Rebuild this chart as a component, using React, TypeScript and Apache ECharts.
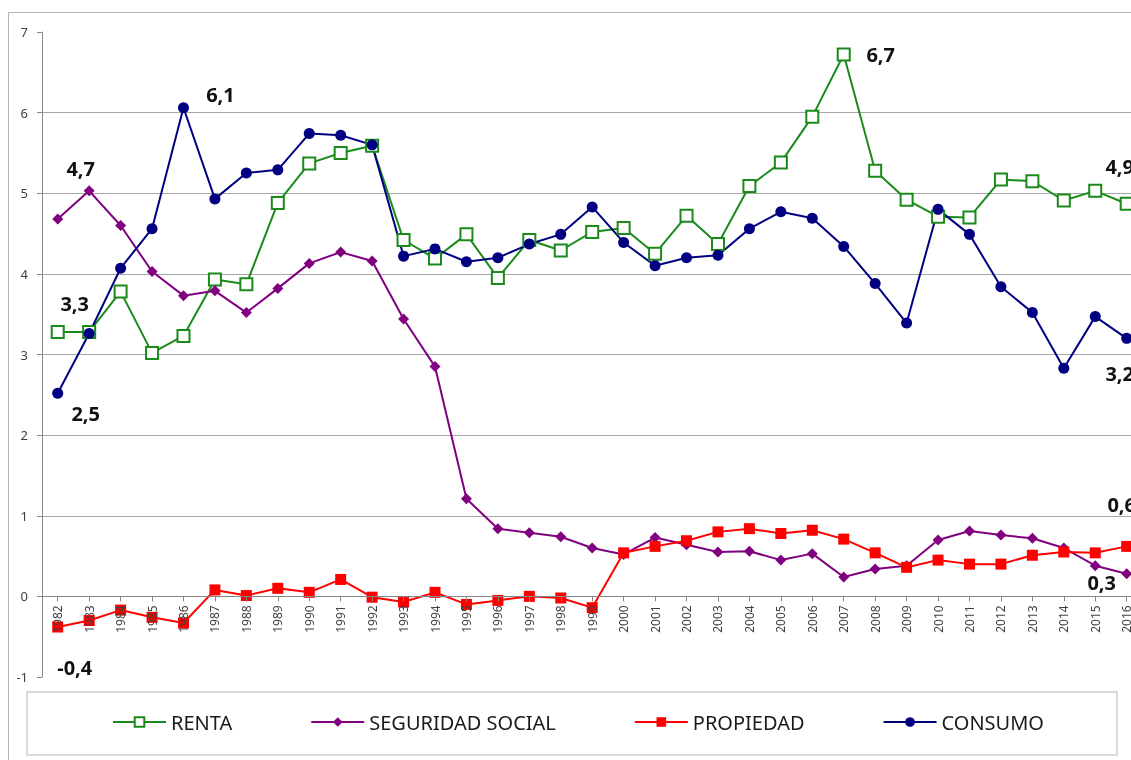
import React, { useEffect, useRef } from "react";
import * as echarts from "echarts";

const years = [
  "1982", "1983", "1984", "1985", "1986", "1987", "1988", "1989", "1990", "1991",
  "1992", "1993", "1994", "1995", "1996", "1997", "1998", "1999", "2000", "2001",
  "2002", "2003", "2004", "2005", "2006", "2007", "2008", "2009", "2010", "2011",
  "2012", "2013", "2014", "2015", "2016",
];

const renta = [
  3.28, 3.28, 3.78, 3.02, 3.23, 3.93, 3.87, 4.88, 5.37, 5.5,
  5.59, 4.42, 4.19, 4.49, 3.95, 4.42, 4.29, 4.52, 4.57, 4.25,
  4.72, 4.37, 5.09, 5.38, 5.95, 6.72, 5.28, 4.92, 4.71, 4.7,
  5.17, 5.15, 4.91, 5.03, 4.87,
];

const seguridadSocial = [
  4.68, 5.03, 4.6, 4.03, 3.73, 3.79, 3.52, 3.82, 4.13, 4.27,
  4.16, 3.44, 2.85, 1.21, 0.84, 0.79, 0.74, 0.6, 0.52, 0.73,
  0.64, 0.55, 0.56, 0.45, 0.53, 0.24, 0.34, 0.38, 0.7, 0.81,
  0.76, 0.72, 0.6, 0.38, 0.28,
];

const propiedad = [
  -0.38, -0.3, -0.17, -0.26, -0.33, 0.08, 0.01, 0.1, 0.05, 0.21,
  -0.01, -0.07, 0.05, -0.1, -0.05, 0.0, -0.02, -0.14, 0.54, 0.62,
  0.69, 0.8, 0.84, 0.78, 0.82, 0.71, 0.54, 0.36, 0.45, 0.4,
  0.4, 0.51, 0.55, 0.54, 0.62,
];

const consumo = [
  2.52, 3.26, 4.07, 4.56, 6.06, 4.93, 5.25, 5.29, 5.74, 5.72,
  5.6, 4.22, 4.31, 4.15, 4.2, 4.37, 4.49, 4.83, 4.39, 4.1,
  4.2, 4.23, 4.56, 4.77, 4.69, 4.34, 3.88, 3.39, 4.8, 4.49,
  3.84, 3.52, 2.83, 3.47, 3.2,
];

const yTicks = [-1, 0, 1, 2, 3, 4, 5, 6, 7];

// which points carry a value label: series name, year, label offset
const annotations = [
  { series: "RENTA", year: "1982", dx: 17, dy: -28 },
  { series: "CONSUMO", year: "1982", dx: 28, dy: 20 },
  { series: "SEGURIDAD SOCIAL", year: "1982", dx: 23, dy: -51 },
  { series: "CONSUMO", year: "1986", dx: 37, dy: -13 },
  { series: "RENTA", year: "2007", dx: 37, dy: 0 },
  { series: "RENTA", year: "2016", dx: -7, dy: -37 },
  { series: "CONSUMO", year: "2016", dx: -7, dy: 35 },
  { series: "PROPIEDAD", year: "2016", dx: -5, dy: -42 },
  { series: "SEGURIDAD SOCIAL", year: "2016", dx: -25, dy: 9 },
  { series: "PROPIEDAD", year: "1982", dx: 17, dy: 40 },
];

const fmt = (v: number) => v.toFixed(1).replace(".", ",");

function buildData(name: string, values: number[]) {
  return values.map((v, i) => {
    const a = annotations.find((x) => x.series === name && x.year === years[i]);
    if (!a) return v;
    return {
      value: v,
      label: {
        show: true,
        position: "inside",
        offset: [a.dx, a.dy],
        formatter: () => fmt(v),
        fontFamily: "Noto Sans",
        fontWeight: "bold",
        fontSize: 20,
        color: "#111",
        align: "center",
        verticalAlign: "middle",
      },
    };
  });
}

const GRID_TOP = 32;
const GRID_BOTTOM = 83;
const DIV_W = 1150;
const DIV_H = 760;

export default function App() {
  const ref = useRef<HTMLDivElement>(null);

  useEffect(() => {
    document.documentElement.style.overflow = "hidden";
    if (!ref.current) return;
    const chart = echarts.init(ref.current, null, { renderer: "svg" });

    const plotH = DIV_H - GRID_TOP - GRID_BOTTOM;
    const yMin = yTicks[0];
    const yMax = yTicks[yTicks.length - 1];
    const zeroOffset = -(plotH * (0 - yMin)) / (yMax - yMin);

    const mk = (
      name: string,
      values: number[],
      color: string,
      symbol: string,
      size: number,
      fill: string
    ) => ({
      name,
      type: "line",
      data: buildData(name, values),
      symbol,
      symbolSize: size,
      showAllSymbol: true,
      lineStyle: { color, width: 2 },
      itemStyle: { color: fill, borderColor: color, borderWidth: fill === color ? 0 : 2 },
      emphasis: { disabled: true },
      z: 3,
    });

    chart.setOption({
      animation: false,
      textStyle: { fontFamily: "Noto Sans" },
      graphic: [
        {
          type: "rect",
          shape: { x: 8.5, y: 12.5, width: 1160, height: 780 },
          style: { fill: "none", stroke: "#b5b5b5", lineWidth: 1 },
          silent: true,
          z: -10,
        },
        {
          type: "rect",
          shape: { x: 27, y: 692, width: 1090, height: 63 },
          style: { fill: "none", stroke: "#d9d9d9", lineWidth: 2 },
          silent: true,
          z: -10,
        },
      ],
      grid: { left: 42, top: GRID_TOP, right: 7.6, bottom: GRID_BOTTOM, containLabel: false },
      legend: {
        left: 107,
        top: 707,
        itemWidth: 53,
        itemHeight: 12,
        itemGap: 78,
        selectedMode: false,
        textStyle: { fontFamily: "Noto Sans", fontSize: 20, color: "#1a1a1a" },
        data: ["RENTA", "SEGURIDAD SOCIAL", "PROPIEDAD", "CONSUMO"],
      },
      xAxis: {
        type: "category",
        data: years,
        boundaryGap: true,
        offset: zeroOffset,
        z: 5,
        axisLine: { show: true, onZero: false, lineStyle: { color: "#868686", width: 1 } },
        axisTick: { show: true, alignWithLabel: true, length: 5, lineStyle: { color: "#868686" } },
        axisLabel: {
          rotate: 90,
          interval: 0,
          fontSize: 12,
          color: "#404040",
          margin: 9,
          fontFamily: "Noto Sans",
        },
        splitLine: { show: false },
      },
      yAxis: {
        type: "value",
        min: yMin,
        max: yMax,
        interval: 1,
        axisLine: { show: true, lineStyle: { color: "#868686", width: 1 } },
        axisTick: { show: true, length: 5, lineStyle: { color: "#868686" } },
        axisLabel: {
          fontSize: 13,
          color: "#404040",
          margin: 14,
          fontFamily: "Noto Sans",
          formatter: (v: number) => String(v),
        },
        splitLine: {
          show: true,
          showMinLine: false,
          showMaxLine: false,
          lineStyle: { color: "#a6a6a6", width: 1 },
        },
      },
      series: [
        mk("RENTA", renta, "#1a8a1a", "rect", 12, "#ffffff"),
        mk("SEGURIDAD SOCIAL", seguridadSocial, "#800080", "diamond", 11, "#800080"),
        mk("PROPIEDAD", propiedad, "#ff0000", "rect", 11, "#ff0000"),
        mk("CONSUMO", consumo, "#000080", "circle", 11, "#000080"),
      ],
    });

    return () => chart.dispose();
  }, []);

  return (
    <div
      ref={ref}
      style={{ position: "fixed", left: 0, top: 0, width: DIV_W, height: DIV_H }}
    />
  );
}
